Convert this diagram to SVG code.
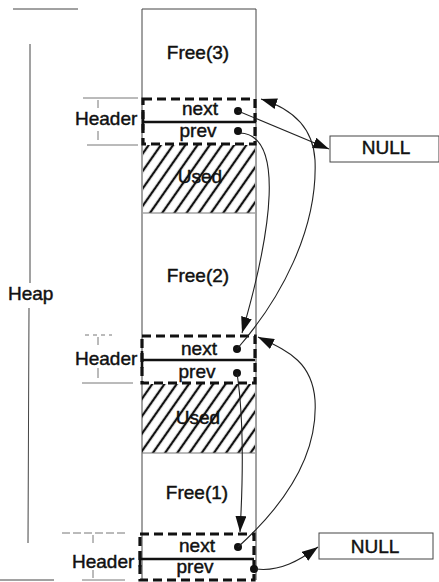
<svg xmlns="http://www.w3.org/2000/svg" width="439" height="582" viewBox="0 0 439 582">
<style>
text{font-family:"Liberation Sans",Arial,sans-serif;font-size:19px;fill:#111;stroke:#111;stroke-width:0.45;}
.c{text-anchor:middle;}
.thin{stroke:#444;stroke-width:1;fill:none;}
.faint{stroke:#777;stroke-width:1;fill:none;}
.hdr{fill:none;stroke:#111;stroke-width:3.2;stroke-dasharray:9 5;}
.mid{stroke:#111;stroke-width:2.6;}
.dot{fill:#111;}
.con{fill:none;stroke:#222;stroke-width:1.1;marker-end:url(#ah);}
</style>
<defs>
<pattern id="hatch" patternUnits="userSpaceOnUse" width="10" height="10" patternTransform="rotate(35)">
<line x1="5" y1="-2" x2="5" y2="12" stroke="#111" stroke-width="2.3"/>
</pattern>
<marker id="ah" markerWidth="16" markerHeight="11" refX="16" refY="5.5" orient="auto" markerUnits="userSpaceOnUse">
<path d="M0,0 L16,5.5 L0,11 z" fill="#111"/>
</marker>
</defs>
<rect width="439" height="582" fill="#fff"/>

<g id="heap-dimension">
<line class="thin" x1="13" y1="9" x2="78" y2="9"/>
<line class="thin" x1="30" y1="44" x2="30" y2="283"/>
<line class="thin" x1="29" y1="308" x2="28" y2="543"/>
<line class="thin" x1="0" y1="580" x2="54" y2="580"/>
<text x="8" y="300">Heap</text>
</g>

<g id="column">
<line class="thin" x1="142" y1="9" x2="256" y2="9"/>
<line class="thin" x1="142" y1="9" x2="142" y2="580"/>
<line class="thin" x1="256" y1="9" x2="256" y2="580"/>
</g>

<g id="free3">
<text class="c" x="198" y="59">Free(3)</text>
</g>

<g id="header3">
<line class="faint" x1="83" y1="98" x2="138" y2="98"/>
<line class="faint" x1="98" y1="100" x2="98" y2="108"/>
<line class="faint" x1="98" y1="131" x2="98" y2="140"/>
<line class="faint" x1="87" y1="145" x2="138" y2="145"/>
<text x="75" y="125">Header</text>
<rect class="hdr" x="143" y="99" width="112" height="45"/>
<line class="mid" x1="142" y1="122" x2="256" y2="122"/>
<line class="mid" x1="143" y1="112" x2="143" y2="130"/>
<text class="c" x="200" y="115">next</text>
<text class="c" x="198" y="137">prev</text>
<circle class="dot" cx="238" cy="111" r="4"/>
<circle class="dot" cx="238" cy="131" r="4"/>
</g>

<g id="used-upper">
<rect x="143" y="145" width="112" height="68" fill="url(#hatch)"/>
<line class="faint" x1="143" y1="213" x2="255" y2="213"/>
<text class="c" x="200" y="183">Used</text>
</g>

<g id="free2">
<text class="c" x="198" y="282">Free(2)</text>
</g>

<g id="header2">
<line class="faint" x1="85" y1="335" x2="112" y2="335" stroke-dasharray="4 4"/>
<line class="faint" x1="98" y1="337" x2="98" y2="345"/>
<line class="faint" x1="98" y1="368" x2="98" y2="378"/>
<line class="faint" x1="82" y1="383" x2="133" y2="383"/>
<text x="75" y="365">Header</text>
<rect class="hdr" x="142" y="336" width="113" height="47"/>
<line class="mid" x1="141" y1="360" x2="255" y2="360"/>
<line class="mid" x1="142" y1="351" x2="142" y2="368"/>
<text class="c" x="199" y="355">next</text>
<text class="c" x="197" y="378">prev</text>
<circle class="dot" cx="237" cy="349" r="4"/>
<circle class="dot" cx="237" cy="373" r="4"/>
</g>

<g id="used-lower">
<rect x="142" y="384" width="113" height="69" fill="url(#hatch)"/>
<line class="faint" x1="142" y1="453" x2="255" y2="453"/>
<text class="c" x="198" y="424">Used</text>
</g>

<g id="free1">
<text class="c" x="197" y="499">Free(1)</text>
</g>

<g id="header1">
<line class="faint" x1="62" y1="533" x2="125" y2="533" stroke-dasharray="8 3"/>
<line class="faint" x1="93" y1="535" x2="93" y2="543"/>
<line class="faint" x1="93" y1="570" x2="93" y2="578"/>
<line class="faint" x1="82" y1="580" x2="125" y2="580"/>
<text x="72" y="568">Header</text>
<rect class="hdr" x="140" y="534" width="114" height="46"/>
<line class="mid" x1="139" y1="559" x2="254" y2="559"/>
<line class="mid" x1="140" y1="551" x2="140" y2="567"/>
<text class="c" x="197" y="552">next</text>
<text class="c" x="195" y="573">prev</text>
<circle class="dot" cx="238" cy="547" r="4"/>
<circle class="dot" cx="254" cy="569" r="4"/>
</g>

<g id="null-top">
<rect class="thin" x="330" y="136" width="109" height="26"/>
<text class="c" x="386" y="154">NULL</text>
</g>

<g id="null-bottom">
<rect class="thin" x="319" y="533" width="114" height="26"/>
<text class="c" x="375" y="553">NULL</text>
</g>

<g id="connectors">
<path class="con" d="M238,111 L329,149"/>
<path class="con" d="M237,349 C280,300 318,230 315,160 C313,125 290,108 261,99"/>
<path class="con" d="M240,133 C285,135 272,230 242,333"/>
<path class="con" d="M238,547 C290,500 318,450 315,400 C312,360 285,350 258,337"/>
<path class="con" d="M237,373 C244,420 243,480 240,532"/>
<path class="con" d="M256,569 C280,572 300,560 318,547"/>
</g>
</svg>
